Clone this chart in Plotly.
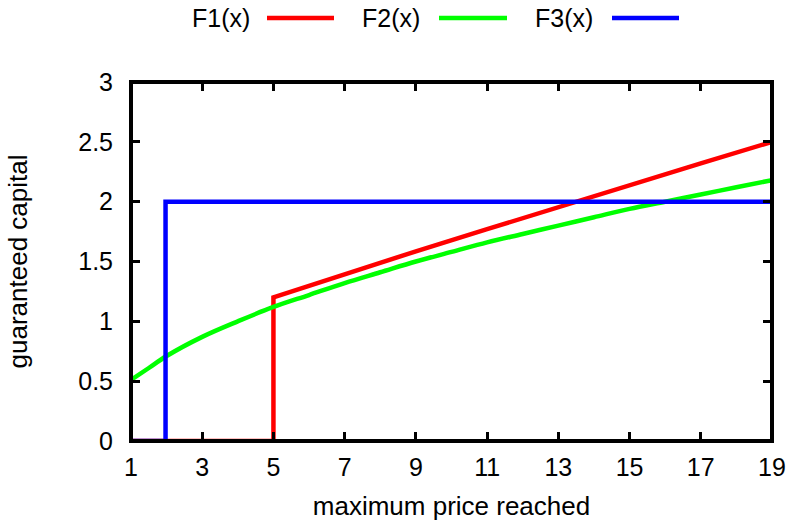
import plotly.graph_objects as go

# ---- data ----
f1_x = [1, 5, 5, 7, 9, 11, 13, 15, 17, 19]
f1_y = [0, 0, 1.20, 1.395, 1.585, 1.77, 1.955, 2.14, 2.32, 2.50]

f2_x = [1, 1.5, 2, 3, 4, 5, 6, 7, 8, 9, 10, 11, 12, 13, 14, 15, 16, 17, 18, 19]
f2_y = [0.51, 0.61, 0.71, 0.87, 1.00, 1.12, 1.22, 1.32, 1.41, 1.50, 1.58, 1.66,
        1.73, 1.80, 1.87, 1.94, 2.00, 2.06, 2.12, 2.18]

f3_x = [1, 1.97, 1.97, 19]
f3_y = [0, 0, 2, 2]

series_names = ["F1(x)", "F2(x)", "F3(x)"]
series_colors = ["#ff0000", "#00ff00", "#0000ff"]

x_ticks = [1, 3, 5, 7, 9, 11, 13, 15, 17, 19]
y_ticks = [0, 0.5, 1, 1.5, 2, 2.5, 3]
y_tick_text = ["0", "0.5", "1", "1.5", "2", "2.5", "3"]

x_title = "maximum price reached"
y_title = "guaranteed capital"

FONT = "Liberation Sans"
FS = 25
FS_TITLE = 26

fig = go.Figure()
fig.add_trace(go.Scatter(x=f1_x, y=f1_y, mode="lines", name=series_names[0],
                         line=dict(color=series_colors[0], width=4.5)))
fig.add_trace(go.Scatter(x=f2_x, y=f2_y, mode="lines", name=series_names[1],
                         line=dict(color=series_colors[1], width=4.5, shape="spline")))
fig.add_trace(go.Scatter(x=f3_x, y=f3_y, mode="lines", name=series_names[2],
                         line=dict(color=series_colors[2], width=4.5)))

# plot border
fig.add_shape(type="rect", xref="paper", yref="paper", x0=0, x1=1, y0=0, y1=1,
              line=dict(color="black", width=4), layer="above")

# legend (text before swatch, like gnuplot)
W, H, L, T = 641.0, 359.0, 131.0, 82.0
def px_x(p):
    return (p - L) / W
def px_y(p):
    return (T + H - p) / H

legend_items = [(252, 267, 334), (422, 439, 507), (595, 612, 679)]
for (tx, s0, s1), name, col in zip(legend_items, series_names, series_colors):
    fig.add_annotation(xref="paper", yref="paper", x=px_x(tx), y=px_y(18),
                       text=name, showarrow=False, xanchor="right", yanchor="middle",
                       font=dict(family=FONT, size=FS, color="black"))
    fig.add_shape(type="line", xref="paper", yref="paper",
                  x0=px_x(s0), x1=px_x(s1), y0=px_y(18), y1=px_y(18),
                  line=dict(color=col, width=4.5))

axis_common = dict(showgrid=False, zeroline=False, showline=False, mirror="ticks",
                   ticks="inside", ticklen=9, tickwidth=3, tickcolor="black",
                   tickfont=dict(family=FONT, size=FS, color="black"))

fig.update_xaxes(range=[1, 19], tickvals=x_ticks, ticktext=[str(v) for v in x_ticks],
                 ticklabelstandoff=9,
                 title=dict(text=x_title, font=dict(family=FONT, size=FS_TITLE, color="black"),
                            standoff=17),
                 **axis_common)
fig.update_yaxes(range=[0, 3], tickvals=y_ticks, ticktext=y_tick_text,
                 ticklabelstandoff=17,
                 title=dict(text=y_title, font=dict(family=FONT, size=FS_TITLE, color="black"),
                            standoff=43),
                 **axis_common)

fig.update_layout(width=794, height=521,
                  margin=dict(l=131, r=22, t=82, b=80, autoexpand=False),
                  plot_bgcolor="white", paper_bgcolor="white",
                  showlegend=False,
                  font=dict(family=FONT, size=FS, color="black"))

fig.write_html("out.html", config={"displayModeBar": False},
               post_script="document.body.style.margin='0';document.body.style.overflow='hidden';")
